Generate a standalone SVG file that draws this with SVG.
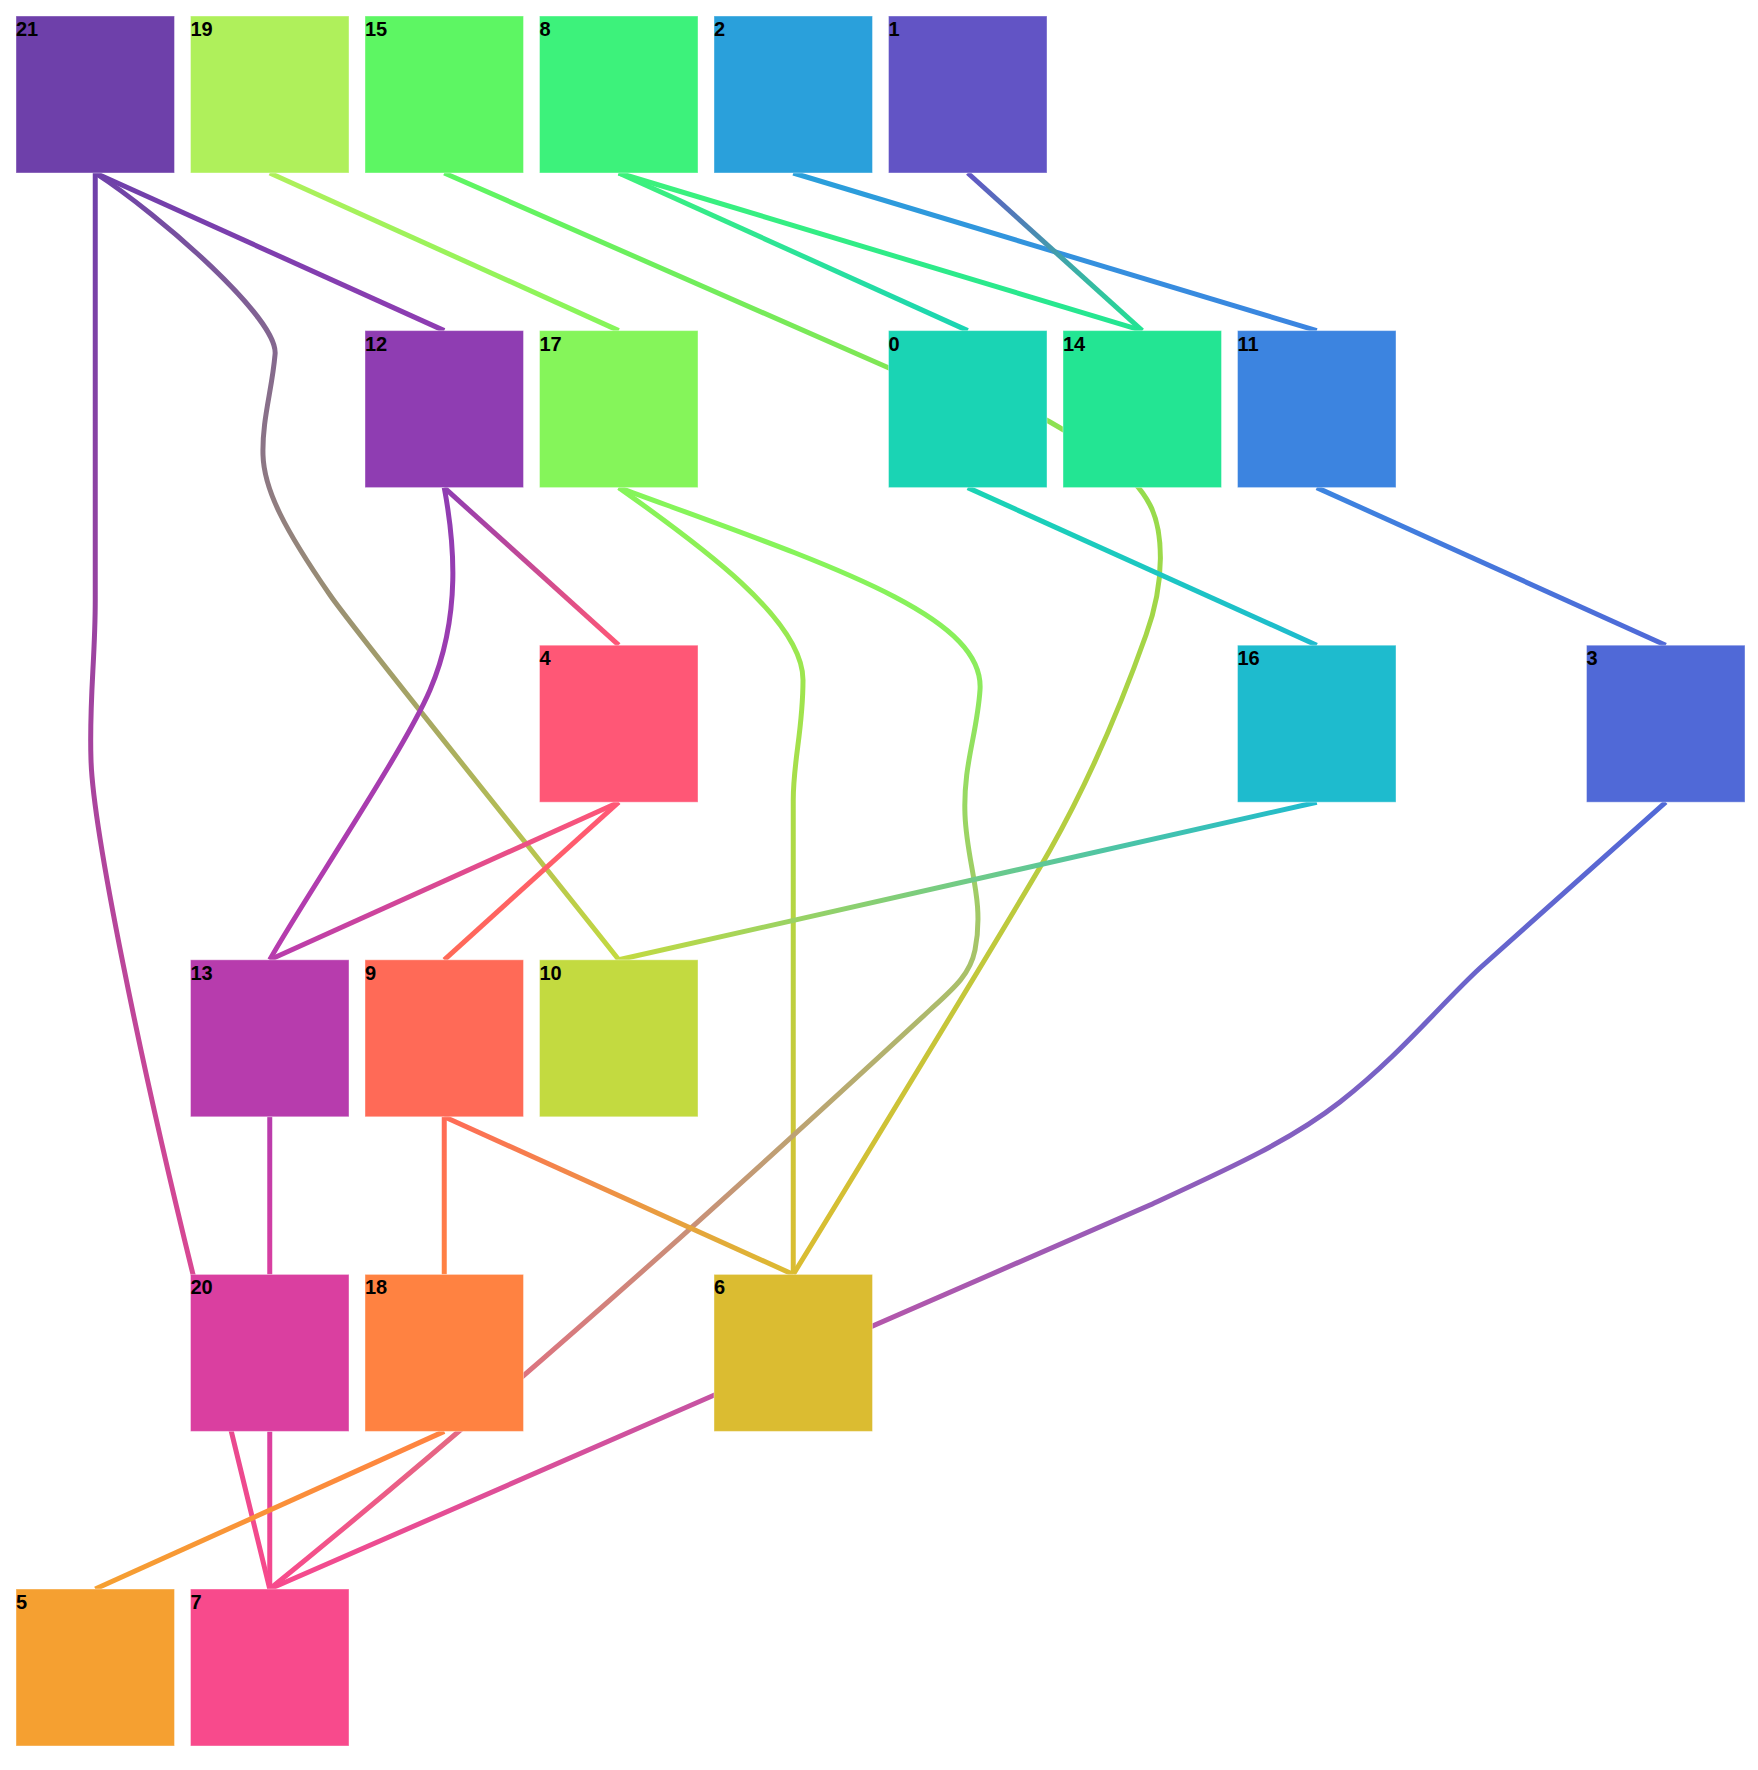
<svg xmlns="http://www.w3.org/2000/svg" width="1758" height="1770" viewBox="0 0 1758 1770">
<style>
.link{fill:none;stroke-width:5}
.node rect{stroke:#ffffff;stroke-opacity:0.4;stroke-width:1}
.node text{font-family:"Liberation Sans",Arial,sans-serif;font-weight:bold;font-size:20px;fill:#000}
</style>
<defs>
<linearGradient id="g21-12" gradientUnits="userSpaceOnUse" x1="95.25" y1="173" x2="444.25" y2="330.6"><stop offset="0" stop-color="#6E40AA"/><stop offset="1" stop-color="#8F3DB2"/></linearGradient>
<linearGradient id="g21-10" gradientUnits="userSpaceOnUse" x1="95.25" y1="173" x2="618.75" y2="959.8"><stop offset="0" stop-color="#6E40AA"/><stop offset="1" stop-color="#C3DA40"/></linearGradient>
<linearGradient id="g21-7" gradientUnits="userSpaceOnUse" x1="95.25" y1="173" x2="269.75" y2="1589"><stop offset="0" stop-color="#6E40AA"/><stop offset="1" stop-color="#F84A8C"/></linearGradient>
<linearGradient id="g19-17" gradientUnits="userSpaceOnUse" x1="269.75" y1="173" x2="618.75" y2="330.6"><stop offset="0" stop-color="#AFF05B"/><stop offset="1" stop-color="#85F55A"/></linearGradient>
<linearGradient id="g15-6" gradientUnits="userSpaceOnUse" x1="444.25" y1="173" x2="793.25" y2="1274.4"><stop offset="0" stop-color="#5DF663"/><stop offset="1" stop-color="#DBBC31"/></linearGradient>
<linearGradient id="g8-0" gradientUnits="userSpaceOnUse" x1="618.75" y1="173" x2="967.75" y2="330.6"><stop offset="0" stop-color="#3DF27B"/><stop offset="1" stop-color="#1AD4B4"/></linearGradient>
<linearGradient id="g8-14" gradientUnits="userSpaceOnUse" x1="618.75" y1="173" x2="1142.25" y2="330.6"><stop offset="0" stop-color="#3DF27B"/><stop offset="1" stop-color="#23E593"/></linearGradient>
<linearGradient id="g2-11" gradientUnits="userSpaceOnUse" x1="793.25" y1="173" x2="1316.75" y2="330.6"><stop offset="0" stop-color="#2AA0DB"/><stop offset="1" stop-color="#3C84E0"/></linearGradient>
<linearGradient id="g1-14" gradientUnits="userSpaceOnUse" x1="967.75" y1="173" x2="1142.25" y2="330.6"><stop offset="0" stop-color="#6254C5"/><stop offset="1" stop-color="#23E593"/></linearGradient>
<linearGradient id="g12-4" gradientUnits="userSpaceOnUse" x1="444.25" y1="487.6" x2="618.75" y2="645.2"><stop offset="0" stop-color="#8F3DB2"/><stop offset="1" stop-color="#FF5776"/></linearGradient>
<linearGradient id="g12-13" gradientUnits="userSpaceOnUse" x1="444.25" y1="487.6" x2="269.75" y2="959.8"><stop offset="0" stop-color="#8F3DB2"/><stop offset="1" stop-color="#B73CAD"/></linearGradient>
<linearGradient id="g17-6" gradientUnits="userSpaceOnUse" x1="618.75" y1="487.6" x2="793.25" y2="1274.4"><stop offset="0" stop-color="#85F55A"/><stop offset="1" stop-color="#DBBC31"/></linearGradient>
<linearGradient id="g17-7" gradientUnits="userSpaceOnUse" x1="618.75" y1="487.6" x2="269.75" y2="1589"><stop offset="0" stop-color="#85F55A"/><stop offset="1" stop-color="#F84A8C"/></linearGradient>
<linearGradient id="g0-16" gradientUnits="userSpaceOnUse" x1="967.75" y1="487.6" x2="1316.75" y2="645.2"><stop offset="0" stop-color="#1AD4B4"/><stop offset="1" stop-color="#1EBBCE"/></linearGradient>
<linearGradient id="g11-3" gradientUnits="userSpaceOnUse" x1="1316.75" y1="487.6" x2="1665.75" y2="645.2"><stop offset="0" stop-color="#3C84E0"/><stop offset="1" stop-color="#5069D7"/></linearGradient>
<linearGradient id="g4-13" gradientUnits="userSpaceOnUse" x1="618.75" y1="802.2" x2="269.75" y2="959.8"><stop offset="0" stop-color="#FF5776"/><stop offset="1" stop-color="#B73CAD"/></linearGradient>
<linearGradient id="g4-9" gradientUnits="userSpaceOnUse" x1="618.75" y1="802.2" x2="444.25" y2="959.8"><stop offset="0" stop-color="#FF5776"/><stop offset="1" stop-color="#FF6A57"/></linearGradient>
<linearGradient id="g16-10" gradientUnits="userSpaceOnUse" x1="1316.75" y1="802.2" x2="618.75" y2="959.8"><stop offset="0" stop-color="#1EBBCE"/><stop offset="1" stop-color="#C3DA40"/></linearGradient>
<linearGradient id="g3-7" gradientUnits="userSpaceOnUse" x1="1665.75" y1="802.2" x2="269.75" y2="1589"><stop offset="0" stop-color="#5069D7"/><stop offset="1" stop-color="#F84A8C"/></linearGradient>
<linearGradient id="g13-20" gradientUnits="userSpaceOnUse" x1="269.75" y1="1116.8" x2="269.75" y2="1274.4"><stop offset="0" stop-color="#B73CAD"/><stop offset="1" stop-color="#DA3FA0"/></linearGradient>
<linearGradient id="g9-18" gradientUnits="userSpaceOnUse" x1="444.25" y1="1116.8" x2="444.25" y2="1274.4"><stop offset="0" stop-color="#FF6A57"/><stop offset="1" stop-color="#FF8241"/></linearGradient>
<linearGradient id="g9-6" gradientUnits="userSpaceOnUse" x1="444.25" y1="1116.8" x2="793.25" y2="1274.4"><stop offset="0" stop-color="#FF6A57"/><stop offset="1" stop-color="#DBBC31"/></linearGradient>
<linearGradient id="g20-7" gradientUnits="userSpaceOnUse" x1="269.75" y1="1431.4" x2="269.75" y2="1589"><stop offset="0" stop-color="#DA3FA0"/><stop offset="1" stop-color="#F84A8C"/></linearGradient>
<linearGradient id="g18-5" gradientUnits="userSpaceOnUse" x1="444.25" y1="1431.4" x2="95.25" y2="1589"><stop offset="0" stop-color="#FF8241"/><stop offset="1" stop-color="#F5A031"/></linearGradient>
</defs>
<g id="links">
<path class="link" stroke="url(#g21-12)" d="M95.25,173 L444.25,330.6"/>
<path class="link" stroke="url(#g21-10)" d="M95.25,173 C160,215 280,320 275,355 C272,390 262,420 263,455 C264,490 285,530 330,595 C356,633 560,885 618.75,959.8"/>
<path class="link" stroke="url(#g21-7)" d="M95.25,173 L95.25,600 C95.25,660 89,700 91,760 C93,830 140,1060 193,1274.4 L269.75,1589"/>
<path class="link" stroke="url(#g19-17)" d="M269.75,173 L618.75,330.6"/>
<path class="link" stroke="url(#g15-6)" d="M444.25,173 L889,368 C950,395 1005,396 1050,422 C1090,445 1132,470 1150,505 C1163,530 1166,580 1146,635 C1130,680 1098,765 1050,850 C1020,903 830,1215 793.25,1274.4"/>
<path class="link" stroke="url(#g8-0)" d="M618.75,173 L967.75,330.6"/>
<path class="link" stroke="url(#g8-14)" d="M618.75,173 L1142.25,330.6"/>
<path class="link" stroke="url(#g2-11)" d="M793.25,173 L1316.75,330.6"/>
<path class="link" stroke="url(#g1-14)" d="M967.75,173 L1142.25,330.6"/>
<path class="link" stroke="url(#g12-4)" d="M444.25,487.6 L618.75,645.2"/>
<path class="link" stroke="url(#g12-13)" d="M444.25,487.6 C454,540 462,615 430,690 C404,751 300,905 269.75,959.8"/>
<path class="link" stroke="url(#g17-6)" d="M618.75,487.6 C700,545 803,620 803,680 C803,730 793.25,760 793.25,800 L793.25,1274.4"/>
<path class="link" stroke="url(#g17-7)" d="M618.75,487.6 C830,565 985,615 980,690 C977,735 963,765 965,815 C967,865 985,900 975,950 C970,975 953,989 930,1010 C800,1130 540,1370 269.75,1589"/>
<path class="link" stroke="url(#g0-16)" d="M967.75,487.6 L1316.75,645.2"/>
<path class="link" stroke="url(#g11-3)" d="M1316.75,487.6 L1665.75,645.2"/>
<path class="link" stroke="url(#g4-13)" d="M618.75,802.2 L269.75,959.8"/>
<path class="link" stroke="url(#g4-9)" d="M618.75,802.2 L444.25,959.8"/>
<path class="link" stroke="url(#g16-10)" d="M1316.75,802.2 L618.75,959.8"/>
<path class="link" stroke="url(#g3-7)" d="M1665.75,802.2 L1480,968 C1440,1005 1400,1055 1340,1102 C1290,1141 1230,1168 1150,1205 L269.75,1589"/>
<path class="link" stroke="url(#g13-20)" d="M269.75,1116.8 L269.75,1274.4"/>
<path class="link" stroke="url(#g9-18)" d="M444.25,1116.8 L444.25,1274.4"/>
<path class="link" stroke="url(#g9-6)" d="M444.25,1116.8 L793.25,1274.4"/>
<path class="link" stroke="url(#g20-7)" d="M269.75,1431.4 L269.75,1589"/>
<path class="link" stroke="url(#g18-5)" d="M444.25,1431.4 L95.25,1589"/>
</g>
<g id="node-21" class="node"><rect x="16" y="16" width="158.5" height="157" fill="#6E40AA"/><text x="16" y="36">21</text></g>
<g id="node-19" class="node"><rect x="190.5" y="16" width="158.5" height="157" fill="#AFF05B"/><text x="190.5" y="36">19</text></g>
<g id="node-15" class="node"><rect x="365" y="16" width="158.5" height="157" fill="#5DF663"/><text x="365" y="36">15</text></g>
<g id="node-8" class="node"><rect x="539.5" y="16" width="158.5" height="157" fill="#3DF27B"/><text x="539.5" y="36">8</text></g>
<g id="node-2" class="node"><rect x="714" y="16" width="158.5" height="157" fill="#2AA0DB"/><text x="714" y="36">2</text></g>
<g id="node-1" class="node"><rect x="888.5" y="16" width="158.5" height="157" fill="#6254C5"/><text x="888.5" y="36">1</text></g>
<g id="node-12" class="node"><rect x="365" y="330.6" width="158.5" height="157" fill="#8F3DB2"/><text x="365" y="350.6">12</text></g>
<g id="node-17" class="node"><rect x="539.5" y="330.6" width="158.5" height="157" fill="#85F55A"/><text x="539.5" y="350.6">17</text></g>
<g id="node-0" class="node"><rect x="888.5" y="330.6" width="158.5" height="157" fill="#1AD4B4"/><text x="888.5" y="350.6">0</text></g>
<g id="node-14" class="node"><rect x="1063" y="330.6" width="158.5" height="157" fill="#23E593"/><text x="1063" y="350.6">14</text></g>
<g id="node-11" class="node"><rect x="1237.5" y="330.6" width="158.5" height="157" fill="#3C84E0"/><text x="1237.5" y="350.6">11</text></g>
<g id="node-4" class="node"><rect x="539.5" y="645.2" width="158.5" height="157" fill="#FF5776"/><text x="539.5" y="665.2">4</text></g>
<g id="node-16" class="node"><rect x="1237.5" y="645.2" width="158.5" height="157" fill="#1EBBCE"/><text x="1237.5" y="665.2">16</text></g>
<g id="node-3" class="node"><rect x="1586.5" y="645.2" width="158.5" height="157" fill="#5069D7"/><text x="1586.5" y="665.2">3</text></g>
<g id="node-13" class="node"><rect x="190.5" y="959.8" width="158.5" height="157" fill="#B73CAD"/><text x="190.5" y="979.8">13</text></g>
<g id="node-9" class="node"><rect x="365" y="959.8" width="158.5" height="157" fill="#FF6A57"/><text x="365" y="979.8">9</text></g>
<g id="node-10" class="node"><rect x="539.5" y="959.8" width="158.5" height="157" fill="#C3DA40"/><text x="539.5" y="979.8">10</text></g>
<g id="node-20" class="node"><rect x="190.5" y="1274.4" width="158.5" height="157" fill="#DA3FA0"/><text x="190.5" y="1294.4">20</text></g>
<g id="node-18" class="node"><rect x="365" y="1274.4" width="158.5" height="157" fill="#FF8241"/><text x="365" y="1294.4">18</text></g>
<g id="node-6" class="node"><rect x="714" y="1274.4" width="158.5" height="157" fill="#DBBC31"/><text x="714" y="1294.4">6</text></g>
<g id="node-5" class="node"><rect x="16" y="1589" width="158.5" height="157" fill="#F5A031"/><text x="16" y="1609">5</text></g>
<g id="node-7" class="node"><rect x="190.5" y="1589" width="158.5" height="157" fill="#F84A8C"/><text x="190.5" y="1609">7</text></g>
</svg>
